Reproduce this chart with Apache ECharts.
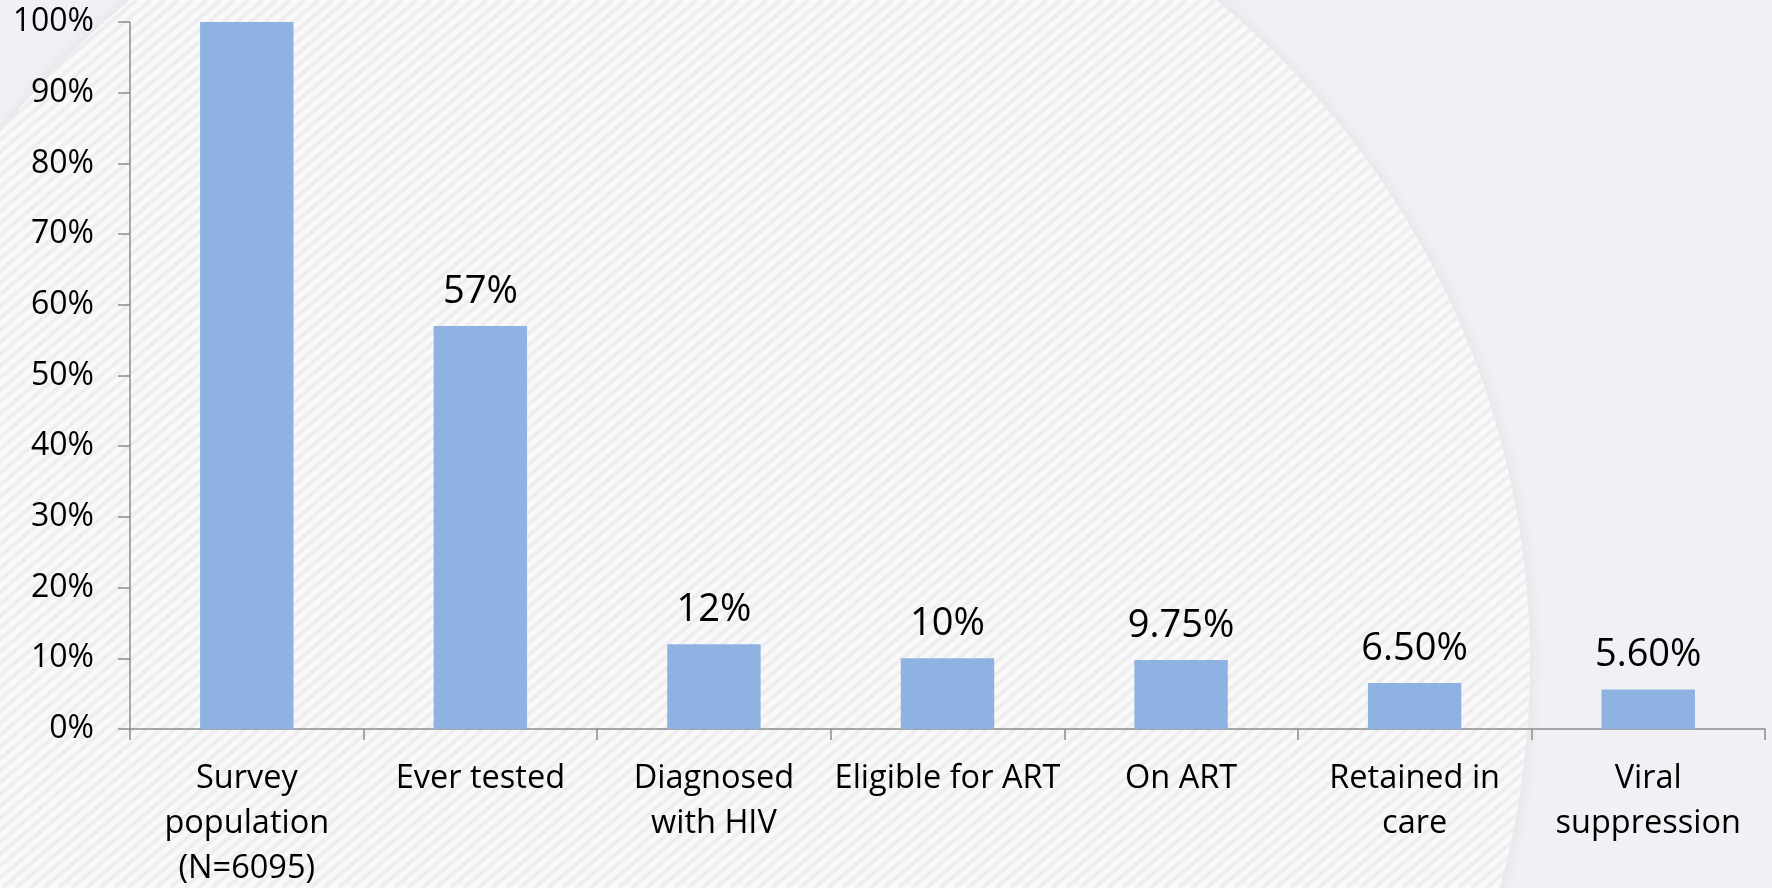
<!DOCTYPE html>
<html>
<head>
<meta charset="utf-8">
<title>HIV care cascade</title>
<script src="https://cdn.jsdelivr.net/npm/echarts@6/dist/echarts.min.js"></script>
<style>
  html, body { margin: 0; padding: 0; background: #f1f0f5; }
  #chart { width: 1772px; height: 888px; }
</style>
</head>
<body>
<div id="chart"></div>
<script>
// Cascade stages (x-axis categories)
const categories = [
  'Survey\npopulation\n(N=6095)',
  'Ever tested',
  'Diagnosed\nwith HIV',
  'Eligible for ART',
  'On ART',
  'Retained in\ncare',
  'Viral\nsuppression'
];
// Share of the survey population at each stage (%)
const values = [100, 57, 12, 10, 9.75, 6.5, 5.6];
// Decimal places used in each bar's value label (null = no label)
const labelDecimals = [null, 0, 0, 0, 2, 2, 2];
// Y-axis range and step (%)
const yMin = 0, yMax = 100, yStep = 10;

// Decorative backdrop: a large pale disc with soft diagonal hatching
function makeBackdrop(w, h) {
  const c = document.createElement('canvas');
  c.width = w; c.height = h;
  const ctx = c.getContext('2d');
  const cx = 673, cy = 663, r = 857;
  ctx.save();
  ctx.shadowColor = 'rgba(0,0,0,0.07)';
  ctx.shadowBlur = 18;
  ctx.beginPath();
  ctx.arc(cx, cy, r, 0, Math.PI * 2);
  ctx.fillStyle = '#fafafa';
  ctx.fill();
  ctx.restore();
  ctx.save();
  ctx.beginPath();
  ctx.arc(cx, cy, r, 0, Math.PI * 2);
  ctx.clip();
  ctx.strokeStyle = 'rgba(200,200,205,0.32)';
  ctx.lineWidth = 3;
  ctx.filter = 'blur(0.8px)';
  const step = 14;
  const slope = 0.85;
  for (let x0 = -h * 2; x0 < w + h; x0 += step) {
    ctx.beginPath();
    ctx.moveTo(x0, h);
    ctx.lineTo(x0 + h / slope, 0);
    ctx.stroke();
  }
  ctx.restore();
  return c;
}

const chart = echarts.init(document.getElementById('chart'), null, { renderer: 'canvas' });
const backdrop = makeBackdrop(1772, 888);

const fontFamily = '"Open Sans", "Noto Sans", sans-serif';

chart.setOption({
  backgroundColor: '#f1f0f5',
  animation: false,
  graphic: [{
    type: 'image',
    left: 0,
    top: 0,
    z: -100,
    silent: true,
    style: { image: backdrop, width: 1772, height: 888 }
  }],
  grid: {
    left: 130,
    right: 7,
    top: 22,
    bottom: 159,
    containLabel: false,
    outerBoundsMode: 'none'
  },
  xAxis: {
    type: 'category',
    data: categories,
    axisLine: { show: true, lineStyle: { color: '#8c8c8c', width: 1.5 } },
    axisTick: { show: true, length: 11, alignWithLabel: false, lineStyle: { color: '#8c8c8c', width: 1.5 } },
    axisLabel: {
      interval: 0,
      margin: 27,
      color: '#000',
      fontFamily: fontFamily,
      fontSize: 32.5,
      lineHeight: 45,
      align: 'center'
    },
    splitLine: { show: false }
  },
  yAxis: {
    type: 'value',
    min: yMin,
    max: yMax,
    interval: yStep,
    axisLine: { show: true, lineStyle: { color: '#8c8c8c', width: 1.5 } },
    axisTick: { show: true, length: 12, lineStyle: { color: '#8c8c8c', width: 1.5 } },
    axisLabel: {
      formatter: '{value}%',
      margin: 36,
      color: '#000',
      fontFamily: fontFamily,
      fontSize: 32
    },
    splitLine: { show: false }
  },
  series: [{
    type: 'bar',
    data: values.map((v, i) => ({
      value: v,
      label: { show: labelDecimals[i] !== null }
    })),
    barCategoryGap: '60%',
    itemStyle: { color: '#8eb2e2' },
    label: {
      show: true,
      position: 'top',
      distance: 15,
      color: '#000',
      fontFamily: fontFamily,
      fontSize: 38,
      formatter: p => {
        const d = labelDecimals[p.dataIndex];
        return d === null ? '' : p.value.toFixed(d) + '%';
      }
    }
  }]
});
</script>
</body>
</html>
